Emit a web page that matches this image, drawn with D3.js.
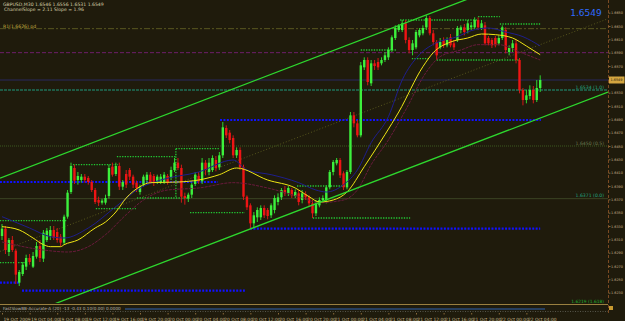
<!DOCTYPE html>
<html>
<head>
<meta charset="utf-8">
<script src="https://cdn.jsdelivr.net/npm/d3@7"></script>
<style>
body { margin: 0; background: #1f1b0c; }
svg { display: block; }
text { font-family: "DejaVu Sans", sans-serif; }
</style>
</head>
<body>
<div id="chart"></div>
<script>
// GBPUSD M30 candles
var opens = [1.6315,1.6326,1.6291,1.6309,1.6293,1.6245,1.6258,1.6269,1.6282,1.6269,1.6284,1.6300,1.6281,1.6309,1.6315,1.6324,1.6321,1.6314,1.6305,1.6344,
1.6381,1.6417,1.6399,1.6399,1.6404,1.6402,1.6396,1.6384,1.6369,1.6365,1.6365,1.6375,1.6419,1.6408,1.6420,1.6389,1.6408,1.6414,1.6404,1.6395,
1.6381,1.6392,1.6399,1.6407,1.6405,1.6396,1.6396,1.6396,1.6405,1.6402,1.6414,1.6425,1.6417,1.6375,1.6371,1.6377,1.6393,1.6405,1.6397,1.6425,
1.6411,1.6414,1.6429,1.6418,1.6436,1.6477,1.6470,1.6462,1.6436,1.6444,1.6418,1.6374,1.6361,1.6334,1.6343,1.6343,1.6357,1.6354,1.6346,1.6354,
1.6366,1.6373,1.6384,1.6379,1.6384,1.6375,1.6379,1.6369,1.6378,1.6373,1.6364,1.6349,1.6361,1.6369,1.6369,1.6388,1.6411,1.6424,1.6429,1.6409,
1.6388,1.6411,1.6496,1.6484,1.6466,1.6568,1.6579,1.6544,1.6574,1.6576,1.6574,1.6579,1.6583,1.6594,1.6612,1.6624,1.6624,1.6634,1.6609,1.6594,
1.6598,1.6616,1.6619,1.6628,1.6642,1.6619,1.6606,1.6598,1.6609,1.6601,1.6613,1.6604,1.6609,1.6624,1.6628,1.6624,1.6628,1.6628,1.6639,1.6627,
1.6631,1.6612,1.6609,1.6612,1.6604,1.6612,1.6624,1.6591,1.6597,1.6604,1.6579,1.6534,1.6519,1.6525,1.6534,1.6519,1.6537];
var highs = [1.6333,1.6330,1.6312,1.6315,1.6296,1.6264,1.6276,1.6287,1.6288,1.6291,1.6306,1.6309,1.6324,1.6327,1.6330,1.6330,1.6327,1.6318,1.6347,1.6384,
1.6425,1.6422,1.6411,1.6408,1.6408,1.6405,1.6399,1.6387,1.6374,1.6371,1.6377,1.6422,1.6425,1.6425,1.6425,1.6399,1.6414,1.6417,1.6407,1.6398,
1.6392,1.6407,1.6411,1.6411,1.6408,1.6407,1.6408,1.6411,1.6408,1.6419,1.6432,1.6432,1.6422,1.6380,1.6380,1.6395,1.6411,1.6411,1.6432,1.6429,
1.6432,1.6436,1.6435,1.6441,1.6486,1.6481,1.6474,1.6466,1.6448,1.6448,1.6422,1.6376,1.6364,1.6351,1.6358,1.6361,1.6361,1.6357,1.6364,1.6376,
1.6379,1.6387,1.6390,1.6390,1.6387,1.6385,1.6384,1.6384,1.6382,1.6376,1.6369,1.6369,1.6373,1.6376,1.6391,1.6414,1.6429,1.6432,1.6432,1.6412,
1.6414,1.6501,1.6501,1.6489,1.6576,1.6583,1.6583,1.6579,1.6579,1.6582,1.6583,1.6591,1.6598,1.6616,1.6631,1.6633,1.6639,1.6639,1.6613,1.6609,
1.6624,1.6627,1.6631,1.6646,1.6645,1.6624,1.6609,1.6612,1.6613,1.6613,1.6618,1.6609,1.6630,1.6631,1.6633,1.6639,1.6636,1.6643,1.6643,1.6639,
1.6636,1.6615,1.6612,1.6615,1.6616,1.6631,1.6628,1.6601,1.6609,1.6609,1.6582,1.6537,1.6534,1.6541,1.6540,1.6549,1.6556];
var lows = [1.6309,1.6288,1.6285,1.6291,1.6243,1.6240,1.6255,1.6264,1.6272,1.6267,1.6281,1.6276,1.6276,1.6306,1.6309,1.6309,1.6305,1.6300,1.6302,1.6341,
1.6378,1.6393,1.6392,1.6395,1.6395,1.6392,1.6381,1.6363,1.6360,1.6362,1.6362,1.6371,1.6404,1.6405,1.6384,1.6384,1.6387,1.6399,1.6387,1.6381,
1.6377,1.6389,1.6395,1.6393,1.6390,1.6393,1.6393,1.6393,1.6392,1.6399,1.6411,1.6414,1.6365,1.6362,1.6366,1.6372,1.6390,1.6393,1.6393,1.6406,
1.6406,1.6411,1.6412,1.6414,1.6432,1.6462,1.6454,1.6432,1.6432,1.6414,1.6369,1.6354,1.6326,1.6327,1.6336,1.6339,1.6342,1.6340,1.6342,1.6349,
1.6361,1.6369,1.6375,1.6375,1.6372,1.6372,1.6361,1.6364,1.6369,1.6360,1.6342,1.6345,1.6358,1.6366,1.6364,1.6385,1.6406,1.6421,1.6402,1.6384,
1.6385,1.6408,1.6478,1.6463,1.6463,1.6564,1.6541,1.6540,1.6564,1.6564,1.6571,1.6576,1.6579,1.6591,1.6609,1.6621,1.6621,1.6604,1.6589,1.6586,
1.6595,1.6613,1.6616,1.6624,1.6616,1.6601,1.6579,1.6595,1.6597,1.6598,1.6598,1.6594,1.6606,1.6619,1.6616,1.6619,1.6624,1.6625,1.6624,1.6624,
1.6601,1.6601,1.6597,1.6598,1.6601,1.6609,1.6589,1.6586,1.6591,1.6574,1.6529,1.6511,1.6514,1.6520,1.6514,1.6516,1.6531];
var closes = [1.6326,1.6294,1.6309,1.6294,1.6257,1.6261,1.6272,1.6282,1.6276,1.6285,1.6300,1.6282,1.6320,1.6323,1.6324,1.6312,1.6309,1.6305,1.6344,1.6380,
1.6420,1.6398,1.6405,1.6404,1.6399,1.6396,1.6384,1.6366,1.6365,1.6368,1.6372,1.6417,1.6407,1.6420,1.6389,1.6396,1.6392,1.6404,1.6392,1.6387,
1.6389,1.6404,1.6407,1.6396,1.6395,1.6404,1.6404,1.6407,1.6395,1.6414,1.6425,1.6417,1.6374,1.6372,1.6377,1.6392,1.6407,1.6397,1.6425,1.6414,
1.6425,1.6432,1.6417,1.6436,1.6478,1.6466,1.6459,1.6436,1.6444,1.6418,1.6374,1.6358,1.6334,1.6346,1.6354,1.6357,1.6346,1.6345,1.6361,1.6372,
1.6373,1.6384,1.6379,1.6387,1.6376,1.6381,1.6366,1.6379,1.6373,1.6364,1.6349,1.6364,1.6369,1.6372,1.6388,1.6411,1.6426,1.6429,1.6406,1.6388,
1.6411,1.6496,1.6484,1.6466,1.6571,1.6579,1.6546,1.6574,1.6570,1.6568,1.6579,1.6586,1.6594,1.6613,1.6627,1.6630,1.6634,1.6609,1.6594,1.6604,
1.6621,1.6624,1.6627,1.6642,1.6619,1.6606,1.6586,1.6606,1.6601,1.6609,1.6601,1.6598,1.6627,1.6628,1.6621,1.6634,1.6631,1.6639,1.6628,1.6634,
1.6604,1.6604,1.6601,1.6601,1.6612,1.6628,1.6594,1.6597,1.6604,1.6579,1.6534,1.6519,1.6526,1.6534,1.6519,1.6537,1.6549];

// moving average / band knots (bar index, price)
var yellowBars = [0,5,9,12,14,17,18,22,27,30,33,36,40,43,51,57,63,68,77,85,89,92,96,100,105,111,115,122,125,130,135,139,143,148,152,156];
var yellowVals = [1.6329,1.6324,1.6312,1.6302,1.6299,1.6299,1.6302,1.6309,1.6327,1.6336,1.6351,1.6372,1.6389,1.6395,1.6396,1.6399,1.6407,1.6417,1.6399,1.6387,1.6374,1.6366,1.6369,1.6381,1.6419,1.6467,1.6501,1.6569,1.6590,1.6606,1.6612,1.6618,1.6617,1.6612,1.6600,1.6587];
var navyBars = [0,8,14,18,25,33,40,46,57,67,71,78,86,91,94,99,103,107,112,116,121,126,132,136,141,146,151,156];
var navyVals = [1.6344,1.6327,1.6314,1.6312,1.6327,1.6359,1.6387,1.6399,1.6411,1.6429,1.6414,1.6407,1.6395,1.6384,1.6381,1.6392,1.6414,1.6455,1.6494,1.6549,1.6587,1.6605,1.6614,1.6623,1.6627,1.6621,1.6614,1.6600];
var maroonBars = [0,12,19,25,30,36,41,48,57,67,77,86,92,99,103,107,112,117,123,127,133,138,144,150,156];
var maroonVals = [1.6306,1.6294,1.6291,1.6299,1.6317,1.6347,1.6369,1.6384,1.6387,1.6395,1.6387,1.6374,1.6365,1.6369,1.6384,1.6422,1.6459,1.6504,1.6561,1.6584,1.6594,1.6602,1.6602,1.6591,1.6579];

// regression channel anchors
var channelBars = [0, 156];
var channelUpper = [1.6403, 1.6712];
var channelMiddle = [1.6293, 1.6602];
var channelLower = [1.6183, 1.6492];

// horizontal levels across the chart
var levelPrices = [1.6626, 1.6590, 1.6549, 1.6534, 1.6450, 1.6371];
var levelLabels = ["", "", "", "1.6534 (1.0)", "1.6450 (0.5)", "1.6371 (0.0)"];

// blue dotted levels: start bar, end bar, price
var blueStart = [63.2, -0.6, 71.9, -0.6, 5.8];
var blueEnd = [156.2, 62.6, 156, 5.2, 70.4];
var bluePrice = [1.6489, 1.6396, 1.6326, 1.6245, 1.6233];

// green dotted session boxes: start bar, end bar, price
var boxStart = [-0.6, -0.6, 20.6, 27.2, 33.3, 39.1, 50.4, 54.5, 85.5, 90.1, 104, 115.4, 138, 144.3, 118.8, 126];
var boxEnd = [18.8, 7.2, 33.6, 38.8, 50.4, 53.6, 63.2, 70.4, 100, 118.3, 114.5, 138, 144.3, 156.2, 124, 150];
var boxPrice = [1.6338, 1.6275, 1.6422, 1.6356, 1.6434, 1.6372, 1.6446, 1.6350, 1.6390, 1.6342, 1.6594, 1.6639, 1.6644, 1.6633, 1.6581, 1.6579];

var priceTicks = [1.6650,1.6630,1.6610,1.6590,1.6570,1.6550,1.6530,1.6510,1.6490,1.6470,1.6450,1.6430,1.6410,1.6390,1.6370,1.6350,1.6330,1.6310,1.6290,1.6270,1.6250,1.6230];
var dateTicks = [0,8,16,24,32,40,48,56,64,72,80,88,96,104,112,120,128,136,144,152];
var dateLabels = ["19 Oct 2009","19 Oct 04:00","19 Oct 08:00","19 Oct 12:00","19 Oct 16:00","19 Oct 20:00","20 Oct 00:00","20 Oct 04:00","20 Oct 08:00","20 Oct 12:00",
"20 Oct 16:00","20 Oct 20:00","21 Oct 00:00","21 Oct 04:00","21 Oct 08:00","21 Oct 12:00","21 Oct 16:00","21 Oct 20:00","22 Oct 00:00","22 Oct 04:00"];

var W = 625, H = 321, plotR = 608, plotB = 303;

var svg = d3.select("#chart").append("svg").attr("width", W).attr("height", H);
svg.append("rect").attr("width", W).attr("height", H).attr("fill", "#1f1b0c");

var x = d3.scaleLinear().domain([0, 156]).range([2, 540.2]);
var y = d3.scaleLinear().domain([1.6669, 1.62145]).range([0, plotB]);

svg.append("clipPath").attr("id", "plot").append("rect").attr("width", plotR).attr("height", plotB);
var g = svg.append("g").attr("clip-path", "url(#plot)");

//Full width level lines
var levelStyle = [
	{ c: "#5a5720", d: "6,2,2,2", w: 1 },
	{ c: "#6e1e6a", d: "4,2", w: 1 },
	{ c: "#28285e", d: null, w: 1 },
	{ c: "#1e9a7c", d: "3,1", w: 1 },
	{ c: "#3c5a1e", d: "1,1", w: 1 },
	{ c: "#3c4424", d: null, w: 1 }
];
levelPrices.forEach(function (p, i) {
	g.append("line").attr("x1", 0).attr("x2", plotR)
		.attr("y1", y(p)).attr("y2", y(p))
		.attr("stroke", levelStyle[i].c).attr("stroke-width", levelStyle[i].w)
		.attr("stroke-dasharray", levelStyle[i].d);
	if (levelLabels[i]) {
		g.append("text").attr("x", 604).attr("y", y(p) - 1.5)
			.attr("text-anchor", "end").attr("font-size", 4.6)
			.attr("fill", i == 4 ? "#6a7a50" : "#20a882").text(levelLabels[i]);
	}
});

//Channel lines, extended across the plot
function channelLine(vals, color, dash, width) {
	var slope = (y(vals[1]) - y(vals[0])) / (x(channelBars[1]) - x(channelBars[0]));
	var y0 = y(vals[0]) - slope * x(channelBars[0]);
	g.append("line").attr("x1", 0).attr("y1", y0)
		.attr("x2", plotR).attr("y2", y0 + slope * plotR)
		.attr("stroke", color).attr("stroke-width", width)
		.attr("stroke-dasharray", dash);
}
channelLine(channelMiddle, "#56561c", "1,2", 1);

//Blue dotted levels
bluePrice.forEach(function (p, i) {
	g.append("line").attr("x1", x(blueStart[i])).attr("x2", x(blueEnd[i]))
		.attr("y1", y(p)).attr("y2", y(p))
		.attr("stroke", "#1010ff").attr("stroke-width", 2.2)
		.attr("stroke-dasharray", "2,1.4");
});

//Green dotted boxes
boxPrice.forEach(function (p, i) {
	g.append("line").attr("x1", x(boxStart[i])).attr("x2", x(boxEnd[i]))
		.attr("y1", y(p)).attr("y2", y(p))
		.attr("stroke", "#22c833").attr("stroke-width", 1.3)
		.attr("stroke-dasharray", "1.3,1.3");
});
g.append("line").attr("x1", x(50.4)).attr("x2", x(50.4))
	.attr("y1", y(1.6446)).attr("y2", y(1.6372))
	.attr("stroke", "#22c833").attr("stroke-width", 1.3).attr("stroke-dasharray", "1.3,1.3");

//Candles
var candles = d3.range(closes.length).map(function (i) {
	return { i: i, o: opens[i], h: highs[i], l: lows[i], c: closes[i] };
});
var cg = g.append("g");
cg.selectAll(".wick").data(candles).enter().append("line")
	.attr("x1", function (d) { return x(d.i); })
	.attr("x2", function (d) { return x(d.i); })
	.attr("y1", function (d) { return y(d.h); })
	.attr("y2", function (d) { return y(d.l); })
	.attr("stroke", function (d) { return d.c >= d.o ? "#2fd52f" : "#d01818"; })
	.attr("stroke-width", 1);
cg.selectAll(".body").data(candles).enter().append("rect")
	.attr("x", function (d) { return x(d.i) - 1.2; })
	.attr("width", 2.4)
	.attr("y", function (d) { return y(Math.max(d.o, d.c)); })
	.attr("height", function (d) { return Math.max(1, Math.abs(y(d.o) - y(d.c))); })
	.attr("fill", function (d) { return d.c >= d.o ? "#3cf03c" : "#ee1414"; });

//Moving averages
function knotLine(bars, vals, color, dash) {
	var pts = bars.map(function (b, i) { return [b, vals[i]]; });
	g.append("path").datum(pts)
		.attr("d", d3.line().x(function (d) { return x(d[0]); }).y(function (d) { return y(d[1]); }).curve(d3.curveMonotoneX))
		.attr("fill", "none").attr("stroke", color).attr("stroke-width", 1)
		.attr("stroke-dasharray", dash);
}
knotLine(maroonBars, maroonVals, "#6a1a3c", "3,1");
knotLine(navyBars, navyVals, "#1e1e8c", null);
knotLine(yellowBars, yellowVals, "#f0e614", null);

channelLine(channelUpper, "#2ed82e", null, 1.3);
channelLine(channelLower, "#2ed82e", null, 1.3);

//Texts on the chart
svg.append("text").attr("x", 3).attr("y", 6).attr("font-size", 4.6).attr("fill", "#d8cfa8")
	.text("GBPUSD,M30  1.6546 1.6556 1.6531 1.6549");
svg.append("text").attr("x", 4).attr("y", 10.5).attr("font-size", 4.6).attr("fill", "#d8cfa8")
	.text("ChannelSlope = 2.11  Slope = 1.96");
svg.append("text").attr("x", 3).attr("y", 28).attr("font-size", 4.6).attr("fill", "#c8b040")
	.text("R1(1.6626) pd");
svg.append("text").attr("x", 586).attr("y", 16).attr("text-anchor", "middle")
	.attr("font-size", 9).attr("fill", "#2f6cff").text("1.6549");
svg.append("text").attr("x", 604).attr("y", 302.5).attr("text-anchor", "end")
	.attr("font-size", 4.4).attr("fill", "#20b030").text("1.6219 (1.618)");

//Price axis
svg.append("line").attr("x1", plotR + 0.5).attr("x2", plotR + 0.5).attr("y1", 0).attr("y2", 315)
	.attr("stroke", "#7a4a22").attr("stroke-dasharray", "3,2");
var yAxis = svg.append("g").attr("transform", "translate(" + (plotR + 0.5) + ",0)")
	.call(d3.axisRight(y).tickValues(priceTicks).tickSize(2).tickFormat(d3.format(".4f")));
yAxis.select(".domain").remove();
yAxis.selectAll("line").attr("stroke", "#8a6a3a");
yAxis.selectAll("text").attr("font-size", 3.4).attr("fill", "#c8b88a").attr("x", 2.5);

//Current price box
var last = closes[closes.length - 1];
svg.append("rect").attr("x", plotR + 1).attr("y", y(last) - 3.5).attr("width", 15.5).attr("height", 7)
	.attr("fill", "#d4a640");
svg.append("text").attr("x", plotR + 2.5).attr("y", y(last) + 1.3).attr("font-size", 3.4)
	.attr("fill", "#1f1b0c").text(d3.format(".4f")(last));

//Indicator sub window
svg.append("line").attr("x1", 0).attr("x2", plotR).attr("y1", 304.5).attr("y2", 304.5)
	.attr("stroke", "#9a8040").attr("stroke-width", 1.2);
svg.append("line").attr("x1", 0).attr("x2", plotR).attr("y1", 311.5).attr("y2", 311.5)
	.attr("stroke", "#55554a").attr("stroke-dasharray", "1,1.5");
svg.append("line").attr("x1", 125).attr("x2", 545).attr("y1", 309).attr("y2", 309)
	.attr("stroke", "#2f62b0").attr("stroke-width", 1);
svg.append("text").attr("x", 3).attr("y", 310).attr("font-size", 4.2).attr("fill", "#b8b8b0")
	.text("FastSlowBB-Accurate-A (20) -13 -0.43 0.10(0.00) 0.0000");
svg.append("rect").attr("x", 609).attr("y", 306).attr("width", 4).attr("height", 4).attr("fill", "#c89a30");

//Time axis
var xAxis = svg.append("g").attr("transform", "translate(0,313)")
	.call(d3.axisBottom(x).tickValues(dateTicks).tickSize(1.5).tickFormat(function (d, i) { return dateLabels[i]; }));
xAxis.select(".domain").remove();
xAxis.selectAll("line").attr("stroke", "#8a6a3a");
xAxis.selectAll("text").attr("font-size", 4.4).attr("fill", "#c8b88a")
	.attr("text-anchor", "start").attr("dx", 1).attr("y", 5);
</script>
</body>
</html>
